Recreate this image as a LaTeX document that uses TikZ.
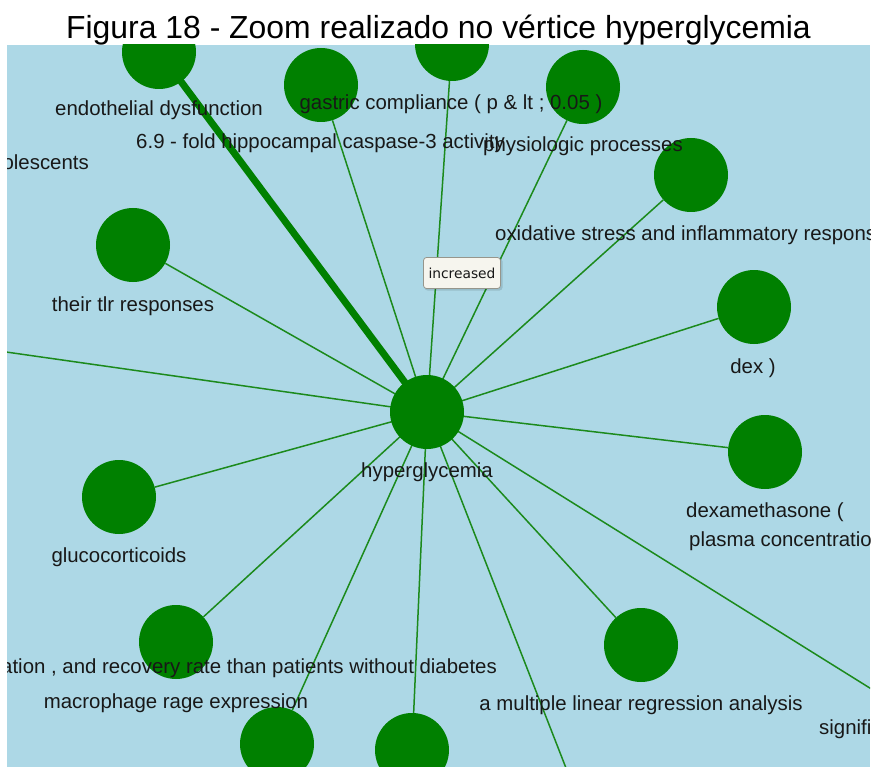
\documentclass[tikz,border=0pt]{standalone}
\usepackage{fontspec}
\setmainfont{Liberation Sans}
\newfontfamily\tipfont{DejaVu Sans}
\definecolor{panelblue}{RGB}{173,216,230}
\definecolor{vertexgreen}{RGB}{0,128,0}
\definecolor{edgegreen}{RGB}{28,138,28}
\definecolor{labelink}{RGB}{24,24,24}
\definecolor{tipfill}{RGB}{246,245,238}
\definecolor{tipedge}{RGB}{150,150,140}
\pgfdeclarelayer{panel}
\pgfdeclarelayer{edges}
\pgfsetlayers{panel,edges,main}
\begin{document}
\begin{tikzpicture}[x=1pt,y=-1pt,
  vertex/.style={circle,fill=vertexgreen,minimum size=74pt,inner sep=0pt},
  link/.style={draw=edgegreen,line width=1.5pt},
  heavylink/.style={draw=vertexgreen,line width=7pt},
  lbl/.style={font=\fontsize{20.4}{24}\selectfont,text=labelink,inner sep=0pt,anchor=base},
  lblleft/.style={lbl,anchor=base west},
  lblright/.style={lbl,anchor=base east}]
\useasboundingbox (0,0) rectangle (872,767);

% heading
\node[font=\fontsize{31.9}{36}\selectfont,inner sep=0pt,anchor=base] (title) at (438.5,39)
  {Figura 18 - Zoom realizado no vértice hyperglycemia};

% panel background
\begin{pgfonlayer}{panel}
\fill[panelblue] (7,45) rectangle (870,767);
\end{pgfonlayer}

\begin{scope}
\clip (7,45) rectangle (870,767);
% vertices
\node[vertex] (hg)    at (427,412) {};
\node[vertex] (endo)  at (159,52)  {};
\node[vertex] (fold)  at (321,85)  {};
\node[vertex] (gast)  at (452,44)  {};
\node[vertex] (phys)  at (583,87)  {};
\node[vertex] (oxid)  at (691,175) {};
\node[vertex] (tlr)   at (133,245) {};
\node[vertex] (dex)   at (754,307) {};
\node[vertex] (dexa)  at (765,452) {};
\node[vertex] (gluco) at (119,497) {};
\node[vertex] (macro) at (176,642) {};
\node[vertex] (mlr)   at (641,645) {};
\node[vertex] (botA)  at (277,744) {};
\node[vertex] (botB)  at (412,750) {};
\coordinate (offW)  at (-50,344);
\coordinate (offSE) at (950,738);
\coordinate (offS)  at (598,850);

% labels
\node[lbl] (lhg)    at (427,477) {hyperglycemia};
\node[lbl] (lendo)  at (159,116) {endothelial dysfunction};
\node[lbl] (lfold)  at (320.5,149) {6.9 - fold hippocampal caspase-3 activity};
\node[lbl] (lgast)  at (451,110) {gastric compliance ( p \& lt ; 0.05 )};
\node[lbl] (lphys)  at (583,152) {physiologic processes};
\node[lblright] (lado) at (89,170) {olescents};
\node[lblleft] (loxid) at (495,241) {oxidative stress and inflammatory respons};
\node[lbl] (ltlr)   at (133,311) {their tlr responses};
\node[lbl] (ldex)   at (753,373) {dex )};
\node[lbl] (ldexa)  at (765,517) {dexamethasone (};
\node[lblleft] (lplasma) at (689,546) {plasma concentratio};
\node[lbl] (lgluco) at (119,562) {glucocorticoids};
\node[lblright] (lrec) at (497,673) {ation , and recovery rate than patients without diabetes};
\node[lbl] (lmacro) at (176,708) {macrophage rage expression};
\node[lbl] (lmlr)   at (641,710) {a multiple linear regression analysis};
\node[lblleft] (lsig) at (819,734) {signifi};
\end{scope}

% connectors, beneath the vertices
\begin{pgfonlayer}{edges}
\clip (7,45) rectangle (870,767);
\draw[heavylink] (hg.center) -- (endo.center);
\foreach \v in {fold,gast,phys,oxid,tlr,dex,dexa,gluco,macro,mlr,botA,botB,offW,offSE,offS}
  \draw[link] (hg.center) -- (\v);
\end{pgfonlayer}

% hover box
\fill[black,opacity=0.12,rounded corners=3pt] (424.5,258.5) rectangle (502.5,290.5);
\node[draw=tipedge,fill=tipfill,rounded corners=3pt,line width=0.8pt,
  minimum width=77pt,minimum height=31pt,inner sep=0pt,
  font=\tipfont\fontsize{13.8}{16}\selectfont,text=labelink] (tip) at (462,273) {increased};
\end{tikzpicture}
\end{document}
